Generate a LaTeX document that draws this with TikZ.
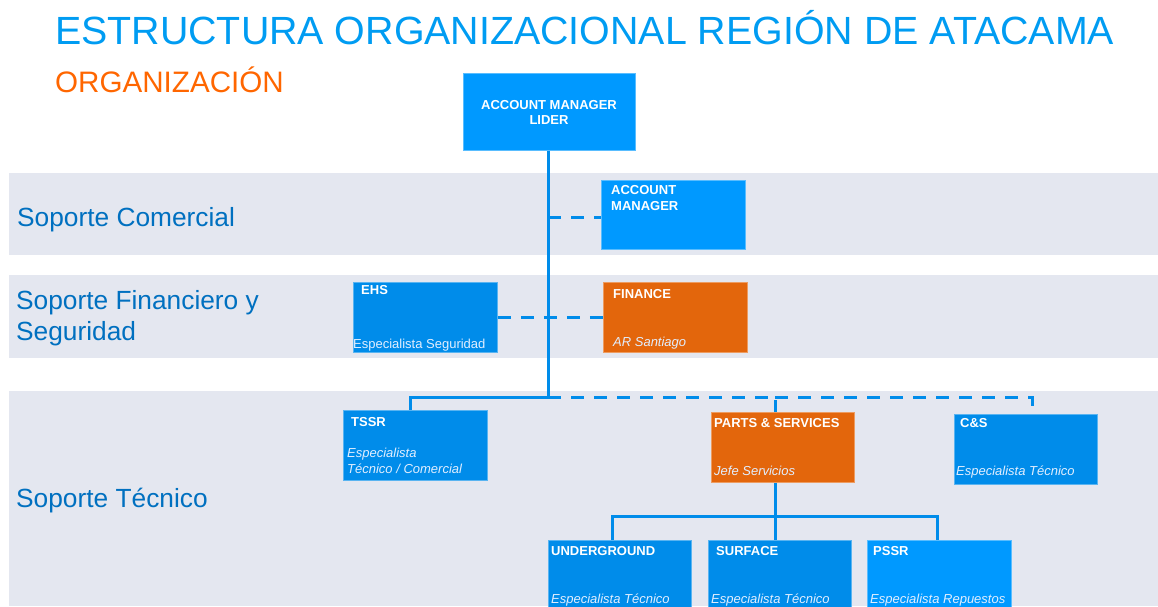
\documentclass[tikz,border=0pt]{standalone}
\usepackage{fontspec}
\setmainfont{Liberation Sans}
\definecolor{bandgray}{RGB}{228,231,240}
\definecolor{skyblue}{RGB}{0,153,255}
\definecolor{midblue}{RGB}{0,140,234}
\definecolor{deepblue}{RGB}{0,112,192}
\definecolor{headblue}{RGB}{0,156,242}
\definecolor{orgorange}{RGB}{255,102,0}
\definecolor{boxorange}{RGB}{227,102,12}
\definecolor{linkblue}{RGB}{0,140,234}
\definecolor{softwhite}{RGB}{225,238,255}
\begin{document}
\begin{tikzpicture}[x=1pt,y=-1pt,
  orgbox/.style={rectangle, inner sep=0pt, anchor=north west,
    minimum width=#1, line width=0.8pt},
  orgbox/.default=144,
  blue box/.style={orgbox=#1, fill=skyblue, draw=white!35!skyblue},
  blue box/.default=144,
  mid box/.style={orgbox=#1, fill=midblue, draw=white!35!midblue},
  mid box/.default=144,
  orange box/.style={orgbox=#1, fill=boxorange, draw=white!35!boxorange},
  orange box/.default=144,
  boxtitle/.style={inner sep=0pt, anchor=base west, align=left, text=white,
    font=\fontsize{13}{16}\selectfont\bfseries},
  boxsub/.style={inner sep=0pt, anchor=base west, align=left, text=softwhite,
    font=\fontsize{13}{16}\selectfont\itshape},
  bandlabel/.style={inner sep=0pt, anchor=base west, align=left, text=deepblue,
    font=\fontsize{26.3}{31}\selectfont},
  link/.style={draw=linkblue, line width=3pt},
  dashlink/.style={link, dash pattern=on 13pt off 10pt}]

\useasboundingbox (0,0) rectangle (1158,606);
\clip (0,0) rectangle (1158,606);

% background bands
\fill[bandgray] (9,173) rectangle (1158,255);
\fill[bandgray] (9,275) rectangle (1158,358);
\fill[bandgray] (9,391) rectangle (1158,606);

% headings
\node[inner sep=0pt, anchor=base west, text=headblue,
  font=\fontsize{39.35}{44}\selectfont] (title) at (55,44)
  {ESTRUCTURA ORGANIZACIONAL REGIÓN DE ATACAMA};
\node[inner sep=0pt, anchor=base west, text=orgorange,
  font=\fontsize{29.6}{34}\selectfont] (subtitle) at (55,92.5) {ORGANIZACIÓN};

% band labels (multi-line texts are placed by the baseline of their last line)
\node[bandlabel] (lbl1) at (17,226) {Soporte Comercial};
\node[bandlabel] (lbl2) at (16,340) {Soporte Financiero y\\Seguridad};
\node[bandlabel] (lbl3) at (16,507) {Soporte Técnico};

% boxes
\node[blue box=172, minimum height=77] (lead) at (463,73) {};
\node[blue box, minimum height=69] (am) at (601,180) {};
\node[mid box, minimum height=70] (ehs) at (353,282) {};
\node[orange box, minimum height=70] (fin) at (603,282) {};
\node[mid box, minimum height=70] (tssr) at (343,410) {};
\node[orange box=143, minimum height=70] (ps) at (711,412) {};
\node[mid box=143, minimum height=70] (cs) at (954,414) {};
\node[mid box=143, minimum height=80] (und) at (548,540) {};
\node[mid box=143, minimum height=80] (surf) at (708,540) {};
\node[blue box=144, minimum height=80] (pssr) at (867,540) {};

% box texts
\node[boxtitle, anchor=base, align=center] (lead-t) at (549,124.5)
  {ACCOUNT MANAGER\\[-1pt]LIDER};
\node[boxtitle] (am-t) at (611,210.5) {ACCOUNT\\MANAGER};
\node[boxtitle] (ehs-t) at (361,294.5) {EHS};
\node[boxsub, font=\fontsize{13}{16}\selectfont] (ehs-s) at (353,348.5)
  {Especialista Seguridad};
\node[boxtitle] (fin-t) at (613,298) {FINANCE};
\node[boxsub] (fin-s) at (613,346.5) {AR Santiago};
\node[boxtitle] (tssr-t) at (351,426.5) {TSSR};
\node[boxsub] (tssr-s) at (347,473.5) {Especialista\\Técnico / Comercial};
\node[boxtitle] (ps-t) at (714,427.5) {PARTS \& SERVICES};
\node[boxsub] (ps-s) at (714,475.5) {Jefe Servicios};
\node[boxtitle] (cs-t) at (960,427.5) {C\&S};
\node[boxsub] (cs-s) at (956,475.5) {Especialista Técnico};
\node[boxtitle] (und-t) at (551,555.5) {UNDERGROUND};
\node[boxsub] (und-s) at (551,603.5) {Especialista Técnico};
\node[boxtitle] (surf-t) at (716,555.5) {SURFACE};
\node[boxsub] (surf-s) at (711,603.5) {Especialista Técnico};
\node[boxtitle] (pssr-t) at (873,555.5) {PSSR};
\node[boxsub] (pssr-s) at (870,603.5) {Especialista Repuestos};

% junction points of the connectors
\coordinate (trunk) at (548,397);
\coordinate (amtap) at (548,217);
\coordinate (csend) at (1032,407);
\coordinate (psjoin) at (775,516);

% dashed (functional) links
\draw[dashlink] (amtap) -- (amtap -| am.west);
\draw[dashlink] (ehs.east) -- (fin.west);
\draw[dashlink] (trunk) -| (psjoin |- ps.north);
\draw[dashlink] (psjoin |- trunk) -| (csend);

% solid (hierarchical) links
\draw[link] (lead.south -| trunk) -- (trunk) -| ([xshift=-5pt]tssr.north);
\draw[link] (psjoin |- ps.south) -- (psjoin |- surf.north);
\draw[link] ([xshift=-7.5pt]und.north) |- (psjoin) -| ([xshift=-2pt]pssr.north);
\end{tikzpicture}
\end{document}
